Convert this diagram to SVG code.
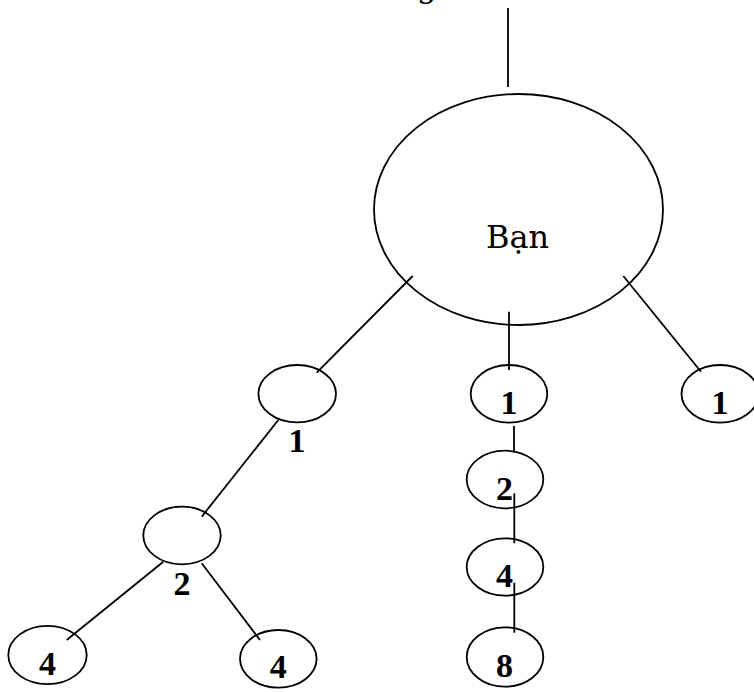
<svg xmlns="http://www.w3.org/2000/svg" width="754" height="692" viewBox="0 0 754 692">
<style>
.n{fill:#fff;stroke:#000;stroke-width:1.8}
.c line{stroke:#000;stroke-width:1.8}
.d{font-family:"Liberation Serif","Times New Roman",serif;font-weight:bold;font-size:34px;text-anchor:middle;fill:#000}
.s{font-family:"DejaVu Serif",serif;font-size:32px;text-anchor:middle;fill:#000}
</style>
<rect width="754" height="692" fill="#fff"/>
<text class="s" x="427" y="-3">g</text>
<g id="root"><ellipse class="n" cx="518.5" cy="209.5" rx="144.5" ry="115.5"/><text class="s" x="517.5" y="248.3">Bạn</text></g>
<g id="l1"><ellipse class="n" cx="297.2" cy="393.7" rx="38.8" ry="28.7"/><text class="d" x="297" y="452.3">1</text></g>
<g id="l2"><ellipse class="n" cx="182" cy="535.5" rx="38.7" ry="28.8"/><text class="d" x="182" y="595">2</text></g>
<g id="l4a"><ellipse class="n" cx="47.5" cy="655" rx="39.2" ry="29.2"/><text class="d" x="47.5" y="675">4</text></g>
<g id="l4b"><ellipse class="n" cx="278.3" cy="658.8" rx="38.3" ry="28.8"/><text class="d" x="278.3" y="678.3">4</text></g>
<g id="m1"><ellipse class="n" cx="509" cy="393.8" rx="38.3" ry="28.8"/><text class="d" x="509" y="414.3">1</text></g>
<g id="m2"><ellipse class="n" cx="505" cy="479.5" rx="38.3" ry="28.8"/><text class="d" x="504.5" y="500">2</text></g>
<g id="m4"><ellipse class="n" cx="505" cy="567" rx="38.3" ry="28.7"/><text class="d" x="504.5" y="586.7">4</text></g>
<g id="m8"><ellipse class="n" cx="505" cy="657" rx="38.3" ry="29.7"/><text class="d" x="504.5" y="676.7">8</text></g>
<g id="r1"><ellipse class="n" cx="720" cy="393.8" rx="38.5" ry="28.8"/><text class="d" x="720" y="414.3">1</text></g>
<g class="c" id="connectors">
<line x1="508" y1="8" x2="508" y2="87"/>
<line x1="412.7" y1="276" x2="316.7" y2="372.7"/>
<line x1="509" y1="311.7" x2="509" y2="370"/>
<line x1="623.3" y1="276" x2="701" y2="371.7"/>
<line x1="278.3" y1="420" x2="201.7" y2="516.7"/>
<line x1="163.3" y1="561.7" x2="66.7" y2="640"/>
<line x1="201.7" y1="563.3" x2="260" y2="640"/>
<line x1="514" y1="426" x2="514" y2="452.7"/>
<line x1="514.3" y1="493.3" x2="514.3" y2="543.3"/>
<line x1="514.3" y1="582.7" x2="514.3" y2="632.7"/>
</g>
</svg>
